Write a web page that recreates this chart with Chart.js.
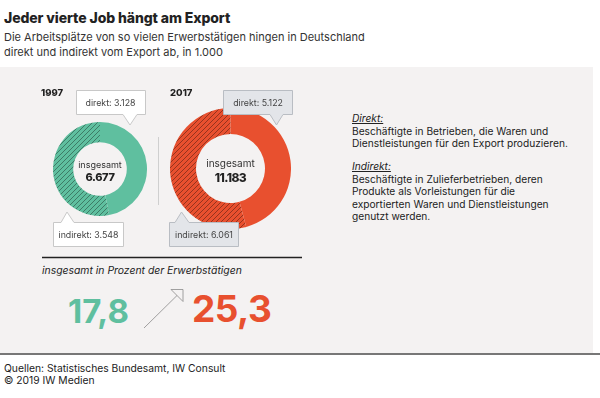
<!DOCTYPE html>
<html lang="de">
<head>
<meta charset="utf-8">
<script src="https://cdn.jsdelivr.net/npm/chart.js@4/dist/chart.umd.min.js"></script>
<style>
body{margin:0;width:600px;height:398px;position:relative;overflow:hidden;background:#fff;font-family:Inter,"Noto Sans",sans-serif;color:#222}
.abs{position:absolute;white-space:nowrap;line-height:1}
#panel{position:absolute;left:0;top:67px;width:593px;height:286px;background:#f4f2f2}
#rule{position:absolute;left:0;top:353px;width:600px;height:2px;background:#777}
canvas{position:absolute}
.info{position:absolute;left:352px;font-size:10.2px;line-height:12.6px;color:#222;white-space:nowrap}
.info i{text-decoration:underline}
#overlay{position:absolute;left:0;top:0}
</style>
</head>
<body>
<div class="abs" style="left:4px;top:11px;font-size:14px;font-weight:800;letter-spacing:-0.1px">Jeder vierte Job hängt am Export</div>
<div class="abs" style="left:4px;top:29.5px;font-size:11px;line-height:15px;color:#333">Die Arbeitsplätze von so vielen Erwerbstätigen hingen in Deutschland<br>direkt und indirekt vom Export ab, in 1.000</div>
<div id="panel"></div>
<div id="rule"></div>

<canvas id="c1997" width="94" height="94" style="left:53px;top:122px"></canvas>
<canvas id="c2017" width="121" height="121" style="left:170px;top:108px"></canvas>

<div class="info" style="top:112px"><i>Direkt:</i><br>Beschäftigte in Betrieben, die Waren und<br>Dienstleistungen für den Export produzieren.</div>
<div class="info" style="top:160px"><i>Indirekt:</i><br>Beschäftigte in Zulieferbetrieben, deren<br>Produkte als Vorleistungen für die<br>exportierten Waren und Dienstleistungen<br>genutzt werden.</div>

<div class="abs" style="left:42px;top:266px;font-size:10.4px;font-style:italic;color:#222">insgesamt in Prozent der Erwerbstätigen</div>
<div class="abs" id="p0" style="left:68px;top:294.5px;font-size:33px;font-weight:700;color:#5fbf9f"></div>
<div class="abs" id="p1" style="left:192px;top:290px;font-size:37px;font-weight:700;letter-spacing:-0.5px;color:#e8502f"></div>

<div class="abs" style="left:4px;top:361.9px;font-size:10.3px;line-height:12.5px;color:#222">Quellen: Statistisches Bundesamt, IW Consult<br>© 2019 IW Medien</div>

<svg id="overlay" width="600" height="398" font-family="Inter, sans-serif">
  <line x1="158.5" y1="137" x2="158.5" y2="205" stroke="#cfcfcf" stroke-width="1"/>
  <line x1="42" y1="257.5" x2="302" y2="257.5" stroke="#222" stroke-width="1.6"/>
  <path d="M76.5,90.5 H145.5 V114.5 H137 L130,125 L123,114.5 H76.5 Z" fill="#fff" stroke="#c8c8c8"/>
  <path d="M223.5,90.5 H292.5 V114.5 H283 L276.5,125 L270,114.5 H223.5 Z" fill="#e3e5e9" stroke="#b9bdc3"/>
  <path d="M53.5,246.5 H123.5 V222.5 H74 L67,212 L61,222.5 H53.5 Z" fill="#fff" stroke="#c8c8c8"/>
  <path d="M169.5,246.5 H238.5 V222.5 H189 L181.5,212 L175,222.5 H169.5 Z" fill="#e3e5e9" stroke="#b9bdc3"/>
  <text id="t0" x="110.5" y="105.5" font-size="8.8" fill="#444" text-anchor="middle"></text>
  <text id="t1" x="258" y="105.5" font-size="8.8" fill="#444" text-anchor="middle"></text>
  <text id="t2" x="88.5" y="238" font-size="8.8" fill="#444" text-anchor="middle"></text>
  <text id="t3" x="204" y="238" font-size="8.8" fill="#444" text-anchor="middle"></text>
  <text x="41" y="95.7" font-size="9.5" font-weight="800" fill="#222">1997</text>
  <text x="170" y="95.7" font-size="9.5" font-weight="800" fill="#222">2017</text>
  <text x="100" y="168" font-size="9" fill="#333" text-anchor="middle">insgesamt</text>
  <text id="s0" x="100" y="181" font-size="11" font-weight="800" letter-spacing="-0.4" fill="#222" text-anchor="middle"></text>
  <text x="230.5" y="167" font-size="10" fill="#333" text-anchor="middle">insgesamt</text>
  <text id="s1" x="230.5" y="181.5" font-size="12" font-weight="800" letter-spacing="-0.6" fill="#222" text-anchor="middle"></text>
  <polygon points="171,289.5 183,289.5 183,301.5" fill="#f4f2f2" stroke="#8a8a8a" stroke-width="0.8"/>
  <line x1="177" y1="295.5" x2="144" y2="328" stroke="#8a8a8a" stroke-width="0.8"/>
</svg>

<script>
const years = ['1997', '2017'];
const direkt = [3128, 5122];
const indirekt = [3548, 6061];
const insgesamt = [6677, 11183];
const prozent = ['17,8', '25,3'];
const farben = ['#5fbf9f', '#e8502f'];

const fmt = n => String(n).replace(/\B(?=(\d{3})+(?!\d))/g, '.');

// diagonal hatching for the "indirekt" part
const hatch = (color) => {
  let c = document.createElement('canvas');
  c.width = 5; c.height = 5;
  let x = c.getContext('2d');
  x.fillStyle = color;
  x.fillRect(0, 0, 5, 5);
  x.strokeStyle = 'rgba(0,0,0,0.4)';
  x.lineWidth = 0.9;
  x.beginPath();
  x.moveTo(-1, 6); x.lineTo(6, -1);
  x.moveTo(-1, 1); x.lineTo(1, -1);
  x.moveTo(4, 6); x.lineTo(6, 4);
  x.stroke();
  return x.createPattern(c, 'repeat');
};

years.forEach((y, i) => {
  const ctx = document.getElementById('c' + y).getContext('2d');
  new Chart(ctx, {
    type: 'doughnut',
    data: {
      labels: ['direkt', 'indirekt'],
      datasets: [{
        data: [direkt[i], indirekt[i]],
        backgroundColor: [farben[i], hatch(farben[i])],
        borderWidth: 0
      }]
    },
    options: {
      responsive: false,
      animation: false,
      cutout: '57%',
      layout: { padding: 0 },
      plugins: { legend: { display: false }, tooltip: { enabled: false } }
    }
  });
  document.getElementById('s' + i).textContent = fmt(insgesamt[i]);
  document.getElementById('p' + i).textContent = prozent[i];
});

document.getElementById('t0').textContent = 'direkt: ' + fmt(direkt[0]);
document.getElementById('t1').textContent = 'direkt: ' + fmt(direkt[1]);
document.getElementById('t2').textContent = 'indirekt: ' + fmt(indirekt[0]);
document.getElementById('t3').textContent = 'indirekt: ' + fmt(indirekt[1]);
</script>
</body>
</html>
